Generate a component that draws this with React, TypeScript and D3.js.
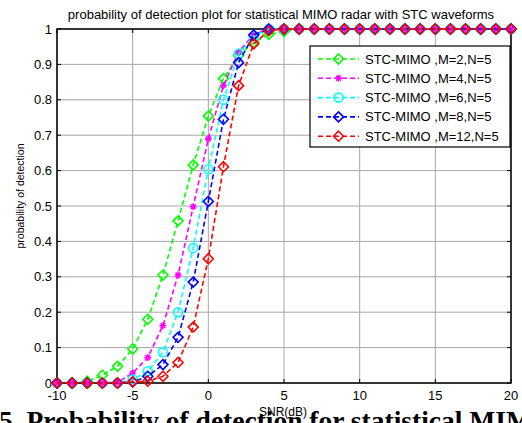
import React from "react";
import * as d3 from "d3";

const snr = d3.range(-10, 21);
const tail = (n: number) => Array(n).fill(1);

const seriesM2 = [0, 0, 0.005, 0.022, 0.047, 0.096, 0.18, 0.305, 0.458, 0.616, 0.754, 0.86, 0.925, 0.962, 0.985, 0.993, ...tail(15)];
const seriesM4 = [0, 0, 0, 0, 0.002, 0.028, 0.072, 0.162, 0.305, 0.498, 0.69, 0.84, 0.935, 0.985, 1, 1, ...tail(15)];
const seriesM6 = [0, 0, 0, 0, 0, 0.01, 0.033, 0.087, 0.2, 0.381, 0.604, 0.8, 0.93, 0.98, 1, 1, ...tail(15)];
const seriesM8 = [0, 0, 0, 0, 0, 0.003, 0.019, 0.052, 0.129, 0.285, 0.513, 0.745, 0.905, 0.983, 1, 1, ...tail(15)];
const seriesM12 = [0, 0, 0, 0, 0, 0.003, 0.005, 0.019, 0.058, 0.158, 0.351, 0.611, 0.84, 0.958, 0.995, 1, ...tail(15)];

const legendLabels = [
  "STC-MIMO ,M=2,N=5",
  "STC-MIMO ,M=4,N=5",
  "STC-MIMO ,M=6,N=5",
  "STC-MIMO ,M=8,N=5",
  "STC-MIMO ,M=12,N=5",
];
const colors = ["#00ff00", "#ff00ff", "#00ffff", "#0000ff", "#ff0000"];
const markers = ["diamond", "star", "circle", "diamond", "diamond"];
const allSeries = [seriesM2, seriesM4, seriesM6, seriesM8, seriesM12];

const xTicks = [-10, -5, 0, 5, 10, 15, 20];
const yTicks = [0, 0.1, 0.2, 0.3, 0.4, 0.5, 0.6, 0.7, 0.8, 0.9, 1];

const titleText = "probability of detection plot for statistical MIMO radar with STC waveforms";
const xLabel = "SNR(dB)";
const yLabel = "probability of detection";
const caption = "5. Probability of detection for statistical MIMO radar";

const W = 522, H = 423;
const L = 57, R = 511, T = 29, B = 383;

function Marker({ type, x, y, color }: { type: string; x: number; y: number; color: string }) {
  const s = 5;
  if (type === "diamond") {
    return <path d={`M${x},${y - s}L${x + s},${y}L${x},${y + s}L${x - s},${y}Z`} fill="none" stroke={color} strokeWidth={1.6} />;
  }
  if (type === "circle") {
    return <circle cx={x} cy={y} r={4.5} fill="none" stroke={color} strokeWidth={1.6} />;
  }
  const a = 3.5;
  return (
    <path
      d={`M${x - a},${y}L${x + a},${y}M${x},${y - a}L${x},${y + a}M${x - a * 0.7},${y - a * 0.7}L${x + a * 0.7},${y + a * 0.7}M${x - a * 0.7},${y + a * 0.7}L${x + a * 0.7},${y - a * 0.7}`}
      stroke={color}
      strokeWidth={1.4}
      fill="none"
    />
  );
}

export default function App() {
  const x = d3.scaleLinear().domain([-10, 20]).range([L, R]);
  const y = d3.scaleLinear().domain([0, 1]).range([B, T]);
  const line = d3.line<number>().x((_, i) => x(snr[i])).y((d) => y(d));
  const font = "Liberation Sans, Arial, sans-serif";

  const lgX = 310, lgY = 46, lgW = 200, lgH = 101;

  return (
    <svg width={W} height={H} style={{ position: "absolute", left: 0, top: 0, background: "#fff" }}>
      <rect x={0} y={0} width={W} height={H} fill="#fff" />
      {/* grid */}
      {xTicks.map((t) => (
        <line key={"gx" + t} x1={x(t)} x2={x(t)} y1={T} y2={B} stroke="#a6a6a6" strokeWidth={1} />
      ))}
      {yTicks.map((t) => (
        <line key={"gy" + t} x1={L} x2={R} y1={y(t)} y2={y(t)} stroke="#a6a6a6" strokeWidth={1} />
      ))}
      {/* ticks */}
      {xTicks.map((t) => (
        <g key={"tx" + t}>
          <line x1={x(t)} x2={x(t)} y1={B} y2={B - 4} stroke="#000" />
          <line x1={x(t)} x2={x(t)} y1={T} y2={T + 4} stroke="#000" />
          <text x={x(t)} y={400} textAnchor="middle" fontFamily={font} fontSize={13}>{t}</text>
        </g>
      ))}
      {yTicks.map((t) => (
        <g key={"ty" + t}>
          <line x1={L} x2={L + 4} y1={y(t)} y2={y(t)} stroke="#000" />
          <line x1={R} x2={R - 4} y1={y(t)} y2={y(t)} stroke="#000" />
          <text x={52} y={y(t) + 4.5} textAnchor="end" fontFamily={font} fontSize={13}>{t}</text>
        </g>
      ))}
      <rect x={L} y={T} width={R - L} height={B - T} fill="none" stroke="#000" strokeWidth={1.5} />
      {/* series */}
      {allSeries.map((s, k) => (
        <g key={"s" + k}>
          <path d={line(s) || ""} fill="none" stroke={colors[k]} strokeWidth={1.6} strokeDasharray="5,3" />
          {s.map((v, i) => (
            <Marker key={i} type={markers[k]} x={x(snr[i])} y={y(v)} color={colors[k]} />
          ))}
        </g>
      ))}
      {/* legend */}
      <rect x={lgX} y={lgY} width={lgW} height={lgH} fill="#fff" stroke="#000" strokeWidth={1.2} />
      {legendLabels.map((lab, k) => {
        const yy = 59 + k * 19.3;
        return (
          <g key={"lg" + k}>
            <line x1={318} x2={359} y1={yy} y2={yy} stroke={colors[k]} strokeWidth={1.6} strokeDasharray="5,3" />
            <Marker type={markers[k]} x={338.5} y={yy} color={colors[k]} />
            <text x={365} y={yy + 4.5} fontFamily={font} fontSize={13}>{lab}</text>
          </g>
        );
      })}
      {/* labels */}
      <text x={281} y={19} textAnchor="middle" fontFamily={font} fontSize={13}>{titleText}</text>
      <text transform={`translate(24,196) rotate(-90)`} textAnchor="middle" fontFamily={font} fontSize={10.5}>{yLabel}</text>
      <text x={-1} y={430} fontFamily="Liberation Serif, Times New Roman, serif" fontWeight="bold" fontSize={27.5}>{caption}</text>
      <text x={283} y={416} textAnchor="middle" fontFamily={font} fontSize={12}>{xLabel}</text>
    </svg>
  );
}
